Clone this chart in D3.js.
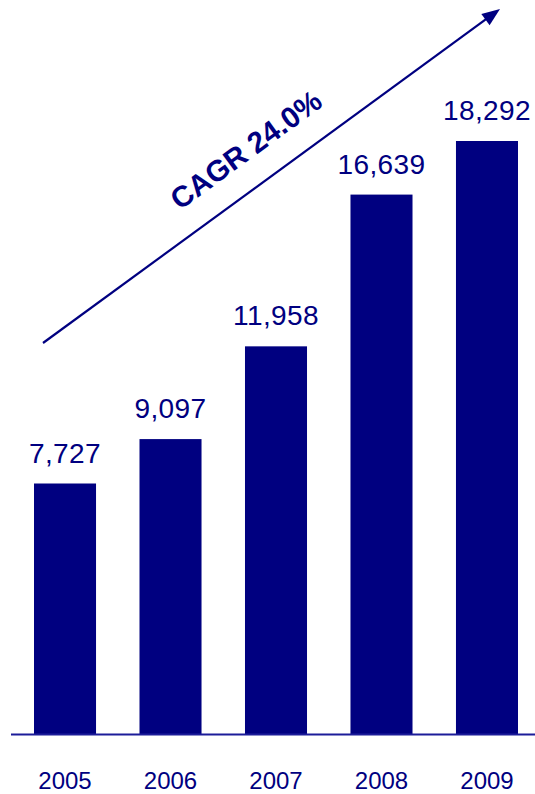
<!DOCTYPE html>
<html>
<head>
<meta charset="utf-8">
<script src="https://cdn.jsdelivr.net/npm/d3@7"></script>
<style>
  html, body { margin: 0; padding: 0; background: #ffffff; }
  svg { display: block; }
</style>
</head>
<body>
<div id="chart"></div>
<script>
// Annual values, 2005–2009
const years = ["2005", "2006", "2007", "2008", "2009"];
const values = [7727, 9097, 11958, 16639, 18292];
const valueLabels = ["7,727", "9,097", "11,958", "16,639", "18,292"];
const cagrLabel = "CAGR 24.0%";

const W = 535, H = 794;
const navy = "#000080";
const font = "'Liberation Sans', Arial, Helvetica, sans-serif";

const svg = d3.select("#chart").append("svg")
  .attr("width", W).attr("height", H);

svg.append("rect").attr("width", W).attr("height", H).attr("fill", "#fff");

const x = d3.scaleBand()
  .domain(years)
  .range([34, 518])
  .paddingInner(0.412)
  .paddingOuter(0);

const y = d3.scaleLinear()
  .domain([0, d3.max(values)])
  .range([734, 141]);

const data = years.map((yr, i) => ({ year: yr, value: values[i], label: valueLabels[i] }));

// bars
svg.append("g").selectAll("rect")
  .data(data)
  .join("rect")
  .attr("x", d => x(d.year))
  .attr("y", d => y(d.value))
  .attr("width", x.bandwidth())
  .attr("height", d => y(0) - y(d.value))
  .attr("fill", navy);

// baseline
svg.append("line")
  .attr("x1", 11).attr("x2", W)
  .attr("y1", y(0) + 0.5).attr("y2", y(0) + 0.5)
  .attr("stroke", "#1c1c99")
  .attr("stroke-width", 2);

// value labels above bars
svg.append("g").selectAll("text")
  .data(data)
  .join("text")
  .attr("x", d => x(d.year) + x.bandwidth() / 2)
  .attr("y", d => y(d.value) - 21)
  .attr("text-anchor", "middle")
  .attr("font-family", font)
  .attr("font-size", 28)
  .attr("letter-spacing", 0.4)
  .attr("fill", navy)
  .text(d => d.label);

// year labels
svg.append("g").selectAll("text")
  .data(data)
  .join("text")
  .attr("x", d => x(d.year) + x.bandwidth() / 2)
  .attr("y", 789)
  .attr("text-anchor", "middle")
  .attr("font-family", font)
  .attr("font-size", 24)
  .attr("fill", navy)
  .text(d => d.year);

// growth arrow
const a0 = [43, 343], a1 = [500, 9];
const ang = Math.atan2(a1[1] - a0[1], a1[0] - a0[0]);
const headLen = 18, headHalf = 7;
const ux = Math.cos(ang), uy = Math.sin(ang);
const base = [a1[0] - ux * headLen, a1[1] - uy * headLen];

svg.append("line")
  .attr("x1", a0[0]).attr("y1", a0[1])
  .attr("x2", base[0] + ux * 2).attr("y2", base[1] + uy * 2)
  .attr("stroke", navy)
  .attr("stroke-width", 2.2);

svg.append("path")
  .attr("d", d3.line()([
    a1,
    [base[0] - uy * headHalf, base[1] + ux * headHalf],
    [base[0] + uy * headHalf, base[1] - ux * headHalf]
  ]) + "Z")
  .attr("fill", navy);

// CAGR annotation along the arrow
const deg = ang * 180 / Math.PI;
svg.append("text")
  .attr("transform", `translate(252,158) rotate(${deg})`)
  .attr("text-anchor", "middle")
  .attr("font-family", font)
  .attr("font-weight", "bold")
  .attr("font-size", 29.5)
  .attr("fill", navy)
  .text(cagrLabel);
</script>
</body>
</html>
